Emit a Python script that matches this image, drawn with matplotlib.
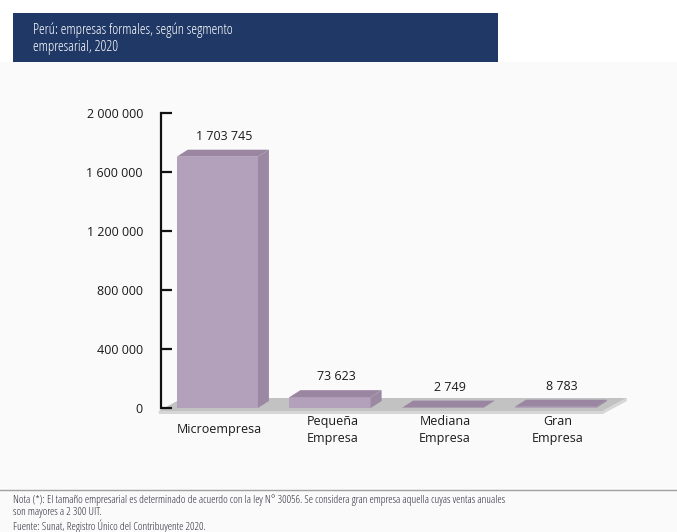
import matplotlib.pyplot as plt
from matplotlib.patches import Polygon, Rectangle
from matplotlib.ticker import FuncFormatter

# datos
categorias = ['Microempresa', 'Pequeña\nEmpresa', 'Mediana\nEmpresa', 'Gran\nEmpresa']
empresas = [1703745, 73623, 2749, 8783]
ticks_y = [0, 400000, 800000, 1200000, 1600000, 2000000]

titulo = 'Perú: empresas formales, según segmento\nempresarial, 2020'
nota = ('Nota (*): El tamaño empresarial es determinado de acuerdo con la ley N° 30056. '
        'Se considera gran empresa aquella cuyas ventas anuales\nson mayores a 2 300 UIT.\n'
        'Fuente: Sunat, Registro Único del Contribuyente 2020.')

W, H = 677, 532
def fx(px):
    return px / W
def fy(py):
    return 1 - py / H

plt.rcParams['font.family'] = ['Open Sans', 'DejaVu Sans']

fig = plt.figure(figsize=(W / 100, H / 100), dpi=100)
fig.patch.set_facecolor('#fafafa')

# franja superior y caja del titulo
fig.patches.append(Rectangle((0, fy(62)), 1, 62 / H, transform=fig.transFigure,
                             facecolor='white', edgecolor='none', zorder=0))
fig.patches.append(Rectangle((fx(13), fy(62)), fx(498) - fx(13), 49 / H,
                             transform=fig.transFigure, facecolor='#1f3866',
                             edgecolor='none', zorder=1))
fig.text(fx(33), fy(38.5), titulo, color='white', fontsize=10.5, stretch='condensed',
         fontweight='medium', va='center', ha='left', linespacing=1.2, zorder=2)

ax = fig.add_axes([fx(161), fy(408), fx(640) - fx(161), (408 - 113) / H])
ax.set_facecolor('none')
ax.set_xlim(-0.5, 3.75)
ax.set_ylim(0, 2000000)

px_x = (3.75 + 0.5) / (640 - 161)
px_y = 2000000 / (408 - 113)

# piso gris
x0, x1 = -0.52, 3.42
fdx, fdy = 24 * px_x, 13 * px_y
base = -3 * px_y
ax.add_patch(Polygon([(x0, base), (x1, base), (x1 + fdx, base + fdy), (x0 + fdx, base + fdy)],
                     closed=True, facecolor='#c2c2c2', edgecolor='none', clip_on=False, zorder=1))
ax.add_patch(Polygon([(x0, base - 3 * px_y), (x1, base - 3 * px_y), (x1 + fdx, base + fdy - 3 * px_y),
                      (x1 + fdx, base + fdy), (x1, base), (x0, base)],
                     closed=True, facecolor='#d6d6d6', edgecolor='none', clip_on=False, zorder=1))

# barras con efecto 3D
ancho = 0.72
ddx, ddy = 11 * px_x, 7 * px_y
for i, v in enumerate(empresas):
    xl, xr = i - ancho / 2, i + ancho / 2
    ax.add_patch(Rectangle((xl, 0), ancho, v, facecolor='#b3a1bb', edgecolor='none',
                           clip_on=False, zorder=3))
    ax.add_patch(Polygon([(xr, 0), (xr + ddx, ddy), (xr + ddx, v + ddy), (xr, v)],
                         facecolor='#9b88a2', edgecolor='none', clip_on=False, zorder=3))
    ax.add_patch(Polygon([(xl, v), (xr, v), (xr + ddx, v + ddy), (xl + ddx, v + ddy)],
                         facecolor='#9a86a1', edgecolor='none', clip_on=False, zorder=3))
    etiqueta = f'{v:,}'.replace(',', ' ')
    ax.annotate(etiqueta, (i + 0.06, v + ddy), xytext=(0, 5), textcoords='offset points',
                ha='center', va='bottom', fontsize=9, color='#1a1a1a', annotation_clip=False)
    ax.text(i + 0.02, -22 * px_y, categorias[i], ha='center', va='center', fontsize=9,
            color='#1a1a1a', linespacing=1.45)

# eje vertical
for s in ['top', 'right', 'bottom']:
    ax.spines[s].set_visible(False)
ax.spines['left'].set_linewidth(1.6)
ax.spines['left'].set_color('#111111')
ax.set_xticks([])
ax.set_yticks(ticks_y)
ax.yaxis.set_major_formatter(FuncFormatter(lambda v, p: f'{int(v):,}'.replace(',', ' ')))
ax.tick_params(axis='y', direction='in', length=8, width=1.6, pad=13,
               labelsize=9, labelcolor='#1a1a1a', color='#111111')

# linea y nota
fig.add_artist(plt.Line2D([0, 1], [fy(490), fy(490)], color='#a0a0a0', linewidth=1))
fig.text(fx(13), fy(494), nota, fontsize=8, stretch='condensed', fontweight='medium',
         color='#2a2a3a', va='top', ha='left', linespacing=1.15)

fig.savefig('out.png', dpi=100, facecolor=fig.get_facecolor())
